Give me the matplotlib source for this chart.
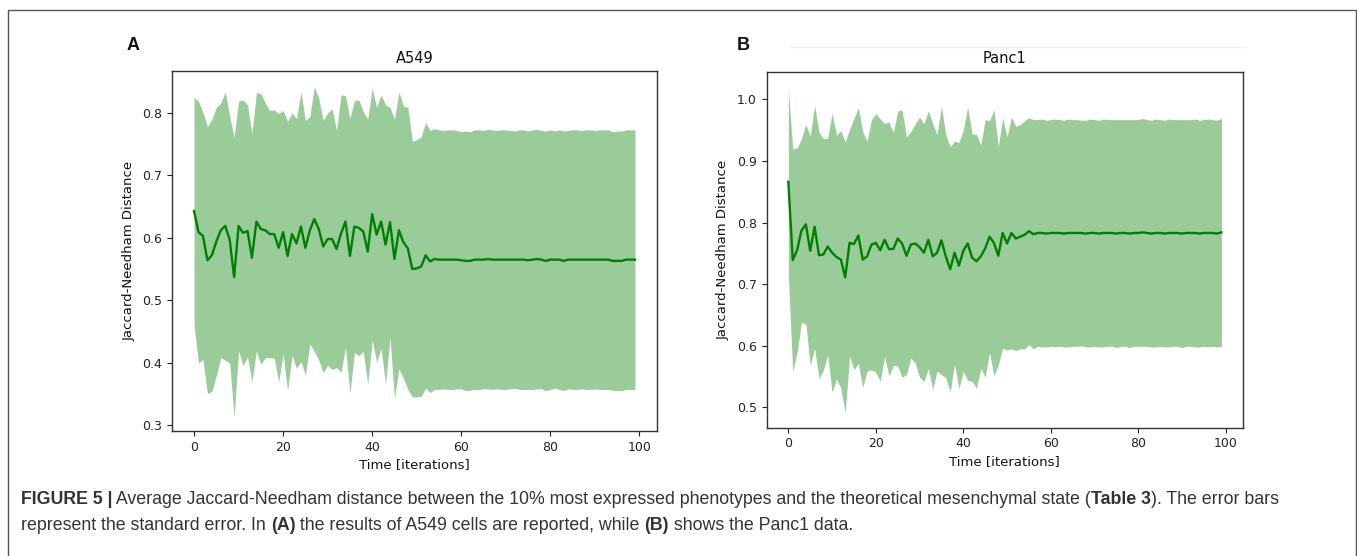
import matplotlib
matplotlib.use("Agg")
import matplotlib.pyplot as plt
from matplotlib.patches import Rectangle
from matplotlib.lines import Line2D
import numpy as np

# ---------------- data ----------------
iterations = list(range(100))

a549_mean = [0.643, 0.609, 0.603, 0.564, 0.572, 0.594, 0.612, 0.619, 0.597, 0.537,
             0.619, 0.608, 0.611, 0.568, 0.626, 0.614, 0.612, 0.606, 0.606, 0.584,
             0.609, 0.571, 0.606, 0.591, 0.618, 0.584, 0.612, 0.630, 0.614, 0.586,
             0.598, 0.598, 0.582, 0.607, 0.626, 0.571, 0.618, 0.616, 0.610, 0.578,
             0.638, 0.605, 0.626, 0.589, 0.625, 0.566, 0.612, 0.593, 0.583, 0.550,
             0.551, 0.554, 0.572, 0.562, 0.566, 0.565, 0.565, 0.565, 0.565, 0.565,
             0.564, 0.563, 0.563, 0.565, 0.565, 0.565, 0.566, 0.565, 0.565, 0.565,
             0.565, 0.565, 0.565, 0.565, 0.565, 0.564, 0.565, 0.566, 0.565, 0.563,
             0.565, 0.565, 0.565, 0.563, 0.565, 0.565, 0.565, 0.565, 0.565, 0.565,
             0.565, 0.565, 0.565, 0.565, 0.563, 0.563, 0.563, 0.565, 0.565, 0.565]

a549_sd = [0.182, 0.210, 0.198, 0.214, 0.218, 0.215, 0.204, 0.215, 0.198, 0.224,
           0.200, 0.213, 0.202, 0.199, 0.207, 0.217, 0.204, 0.198, 0.199, 0.215,
           0.195, 0.216, 0.194, 0.200, 0.216, 0.204, 0.182, 0.212, 0.210, 0.202,
           0.202, 0.209, 0.190, 0.222, 0.202, 0.220, 0.202, 0.205, 0.192, 0.212,
           0.202, 0.204, 0.203, 0.224, 0.184, 0.224, 0.222, 0.218, 0.226, 0.205,
           0.206, 0.208, 0.213, 0.210, 0.209, 0.208, 0.207, 0.208, 0.208, 0.207,
           0.206, 0.208, 0.207, 0.208, 0.208, 0.207, 0.208, 0.208, 0.207, 0.208,
           0.208, 0.207, 0.206, 0.208, 0.208, 0.207, 0.208, 0.208, 0.207, 0.208,
           0.208, 0.206, 0.208, 0.208, 0.207, 0.208, 0.208, 0.207, 0.208, 0.208,
           0.207, 0.208, 0.208, 0.208, 0.207, 0.208, 0.208, 0.208, 0.208, 0.208]

panc1_mean = [0.866, 0.739, 0.755, 0.787, 0.797, 0.754, 0.793, 0.747, 0.748, 0.761,
              0.751, 0.744, 0.740, 0.711, 0.767, 0.765, 0.779, 0.740, 0.745, 0.764,
              0.767, 0.755, 0.772, 0.757, 0.757, 0.774, 0.766, 0.746, 0.764, 0.766,
              0.760, 0.751, 0.772, 0.745, 0.751, 0.771, 0.745, 0.724, 0.751, 0.730,
              0.754, 0.766, 0.743, 0.737, 0.745, 0.758, 0.777, 0.767, 0.746, 0.783,
              0.766, 0.783, 0.774, 0.777, 0.780, 0.786, 0.781, 0.783, 0.783, 0.782,
              0.783, 0.783, 0.783, 0.782, 0.783, 0.783, 0.783, 0.783, 0.782, 0.783,
              0.783, 0.782, 0.783, 0.783, 0.783, 0.782, 0.783, 0.783, 0.782, 0.783,
              0.783, 0.784, 0.783, 0.782, 0.783, 0.783, 0.782, 0.783, 0.783, 0.783,
              0.782, 0.783, 0.783, 0.783, 0.782, 0.783, 0.783, 0.783, 0.782, 0.784]

panc1_sd = [0.151, 0.181, 0.166, 0.149, 0.162, 0.186, 0.197, 0.200, 0.188, 0.176,
            0.227, 0.198, 0.209, 0.220, 0.184, 0.204, 0.208, 0.208, 0.186, 0.203,
            0.210, 0.213, 0.189, 0.206, 0.189, 0.207, 0.217, 0.193, 0.184, 0.194,
            0.211, 0.209, 0.209, 0.216, 0.192, 0.218, 0.197, 0.199, 0.181, 0.200,
            0.196, 0.222, 0.201, 0.206, 0.181, 0.209, 0.188, 0.216, 0.177, 0.187,
            0.173, 0.188, 0.182, 0.182, 0.185, 0.184, 0.186, 0.184, 0.185, 0.184,
            0.184, 0.185, 0.184, 0.184, 0.185, 0.184, 0.184, 0.183, 0.184, 0.185,
            0.184, 0.184, 0.185, 0.184, 0.184, 0.185, 0.184, 0.184, 0.185, 0.184,
            0.184, 0.185, 0.184, 0.184, 0.185, 0.184, 0.184, 0.185, 0.184, 0.184,
            0.185, 0.184, 0.184, 0.185, 0.184, 0.184, 0.185, 0.184, 0.184, 0.185]

a549_yticks = [0.3, 0.4, 0.5, 0.6, 0.7, 0.8]
panc1_yticks = [0.5, 0.6, 0.7, 0.8, 0.9, 1.0]
x_ticks = [0, 20, 40, 60, 80, 100]

# ---------------- figure ----------------
W, H = 1357, 556
fig = plt.figure(figsize=(W / 100, H / 100), dpi=100)
fig.patch.set_facecolor("white")


def px_axes(left, top, right, bottom):
    return fig.add_axes([left / W, 1 - bottom / H, (right - left) / W, (bottom - top) / H])


def draw_panel(ax, mean, sd, title, yticks, ylim):
    x = np.array(iterations)
    m = np.array(mean)
    s = np.array(sd)
    ax.fill_between(x, m - s, m + s, color="green", alpha=0.4, linewidth=0)
    ax.plot(x, m, color="green", linewidth=1.7)
    ax.set_xlim(-4.95, 103.95)
    ax.set_ylim(*ylim)
    ax.set_xticks(x_ticks)
    ax.set_yticks(yticks)
    ax.set_yticklabels([f"{t:.1f}" for t in yticks])
    ax.tick_params(labelsize=9, colors="#222222", length=3.5, width=0.8)
    for sp in ax.spines.values():
        sp.set_color("#333333")
        sp.set_linewidth(1.0)
    ax.set_title(title, fontsize=10.5, color="#111111", pad=6)
    ax.set_xlabel("Time [iterations]", fontsize=9.5, color="#111111", labelpad=3)
    ax.set_ylabel("Jaccard-Needham Distance", fontsize=9.5, color="#111111", labelpad=5)


axA = px_axes(172, 71, 657, 431)
draw_panel(axA, a549_mean, a549_sd, "A549", a549_yticks, (0.2904, 0.8673))

axB = px_axes(766.7, 71.7, 1243, 427.7)
draw_panel(axB, panc1_mean, panc1_sd, "Panc1", panc1_yticks, (0.4669, 1.0448))

# panel letters
fig.text(127 / W, 1 - 49.5 / H, "A", fontsize=13, fontweight="bold",
         family="Liberation Sans", color="#111111", ha="left", va="baseline")
fig.text(737 / W, 1 - 49.5 / H, "B", fontsize=13, fontweight="bold",
         family="Liberation Sans", color="#111111", ha="left", va="baseline")

# faint artifact line above Panc1
fig.add_artist(Line2D([790 / W, 1245 / W], [1 - 47 / H, 1 - 47 / H],
                      color="#f0f0f0", linewidth=1.0))

# outer frame (bottom edge lies outside the picture)
fig.add_artist(Rectangle((8 / W, -0.05), (1355.5 - 8) / W, 1 - 10 / H + 0.05,
                         transform=fig.transFigure, fill=False,
                         edgecolor="#555555", linewidth=1.0))

# ---------------- caption with mixed weights ----------------
renderer = fig.canvas.get_renderer()
cap_color = "#333333"
cap_size = 12.8


def rich_line(x_px, y_px, pieces):
    x = x_px / W
    for txt, bold in pieces:
        t = fig.text(x, 1 - y_px / H, txt, fontsize=cap_size,
                     fontweight="bold" if bold else "normal",
                     family="Liberation Sans", color=cap_color,
                     ha="left", va="baseline")
        bb = t.get_window_extent(renderer)
        x = bb.x1 / W


rich_line(21, 504, [
    ("FIGURE 5 |", True),
    (" Average Jaccard-Needham distance between the 10% most expressed phenotypes and the theoretical mesenchymal state (", False),
    ("Table 3", True),
    ("). The error bars", False),
])
rich_line(21, 530, [
    ("represent the standard error. In ", False),
    ("(A)", True),
    (" the results of A549 cells are reported, while ", False),
    ("(B)", True),
    (" shows the Panc1 data.", False),
])

fig.savefig("out.png", dpi=100, facecolor="white")
